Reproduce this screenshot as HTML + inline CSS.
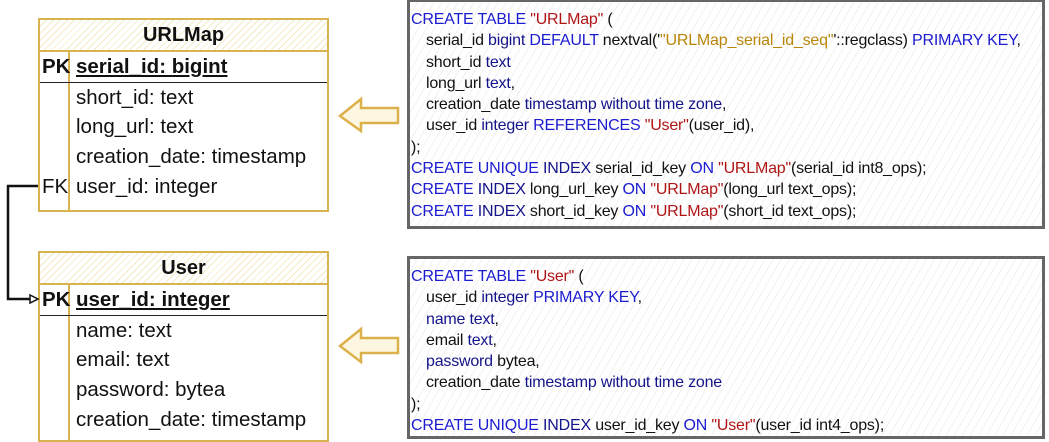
<!DOCTYPE html>
<html><head><meta charset="utf-8"><style>
body{margin:0;width:1049px;height:442px;background:#fff;position:relative;overflow:hidden;font-family:"Liberation Sans",sans-serif}
.t{position:absolute;left:38px;width:291px;border:2.5px solid #d8b450;box-sizing:border-box}
.h{height:30px;border-bottom:2.5px solid #d8b450;background:repeating-linear-gradient(135deg,#fff 0 4px,#f6e9c4 4px 5px);text-align:center;font-weight:bold;font-size:20px;line-height:30px;color:#111}
.r{position:relative;height:29.7px;font-size:20.5px;line-height:29.7px;color:#111;padding-left:36px;white-space:nowrap}
.k{position:absolute;left:2px;top:0;font-weight:bold}
.pk{border-bottom:1px solid #222;font-weight:bold}
.pk span.u{text-decoration:underline}
.div{position:absolute;left:28px;top:30px;bottom:0;border-left:2.5px solid #d8b450}
.c{position:absolute;left:407px;width:638px;border:3px solid #666;box-sizing:border-box;background:repeating-linear-gradient(120deg,#fff 0 6px,#f1f1f1 6px 7px);font-size:16px;letter-spacing:-0.2px;color:#111;padding-left:1px}
.c div{height:21.3px;line-height:21.3px;white-space:nowrap}
.i{padding-left:15px}
.b{color:#1c1cd0}.n{color:#14148a}.s{color:#b01515}.g{color:#b8860b}
</style></head><body>
<div class="t" style="top:18px;height:194px">
 <div class="h">URLMap</div><div class="div"></div>
 <div class="r pk"><span class="k">PK</span><span class="u">serial_id: bigint</span></div>
 <div class="r">short_id: text</div>
 <div class="r">long_url: text</div>
 <div class="r">creation_date: timestamp</div>
 <div class="r"><span class="k" style="font-weight:normal">FK</span>user_id: integer</div>
</div>
<div class="t" style="top:251px;height:191px">
 <div class="h">User</div><div class="div"></div>
 <div class="r pk"><span class="k">PK</span><span class="u">user_id: integer</span></div>
 <div class="r">name: text</div>
 <div class="r">email: text</div>
 <div class="r">password: bytea</div>
 <div class="r">creation_date: timestamp</div>
</div>
<svg width="1049" height="442" style="position:absolute;left:0;top:0">
 <path d="M38 186 H8 V299 H34" fill="none" stroke="#111" stroke-width="2.5"/>
 <path d="M30 295 L38 299 L30 303 Z" fill="#fff" stroke="#111" stroke-width="1.5"/>
 <path d="M398 108 H361 V99 L340 116 L361 131 V123 H398 Z" fill="#fdf6e0" stroke="#dcb14c" stroke-width="2.5"/>
 <path d="M398 338 H361 V329 L340 346 L361 362 V353 H398 Z" fill="#fdf6e0" stroke="#dcb14c" stroke-width="2.5"/>
</svg>
<div class="c" style="top:-1px;height:230px;padding-top:7px">
<div><span class="b">CREATE TABLE</span> <span class="s">"URLMap"</span> (</div>
<div class="i">serial_id <span class="n">bigint</span> <span class="b">DEFAULT</span> nextval('<span class="g">"URLMap_serial_id_seq"</span>'::regclass) <span class="b">PRIMARY KEY</span>,</div>
<div class="i">short_id <span class="n">text</span></div>
<div class="i">long_url <span class="n">text</span>,</div>
<div class="i">creation_date <span class="n">timestamp without time zone</span>,</div>
<div class="i">user_id <span class="n">integer</span> <span class="b">REFERENCES</span> <span class="s">"User"</span>(user_id),</div>
<div>);</div>
<div><span class="b">CREATE UNIQUE</span> <span class="n">INDEX</span> serial_id_key <span class="b">ON</span> <span class="s">"URLMap"</span>(serial_id int8_ops);</div>
<div><span class="b">CREATE</span> <span class="n">INDEX</span> long_url_key <span class="b">ON</span> <span class="s">"URLMap"</span>(long_url text_ops);</div>
<div><span class="b">CREATE</span> <span class="n">INDEX</span> short_id_key <span class="b">ON</span> <span class="s">"URLMap"</span>(short_id text_ops);</div>
</div>
<div class="c" style="top:256px;height:183px;padding-top:7px">
<div><span class="b">CREATE TABLE</span> <span class="s">"User"</span> (</div>
<div class="i">user_id <span class="n">integer</span> <span class="b">PRIMARY KEY</span>,</div>
<div class="i"><span class="n">name text</span>,</div>
<div class="i">email <span class="n">text</span>,</div>
<div class="i"><span class="n">password</span> bytea,</div>
<div class="i">creation_date <span class="n">timestamp without time zone</span></div>
<div>);</div>
<div><span class="b">CREATE UNIQUE</span> <span class="n">INDEX</span> user_id_key <span class="b">ON</span> <span class="s">"User"</span>(user_id int4_ops);</div>
</div>
</body></html>
